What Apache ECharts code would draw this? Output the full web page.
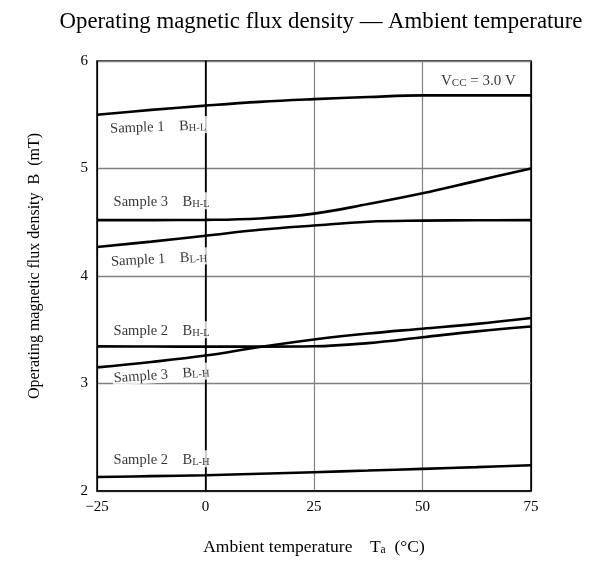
<!DOCTYPE html>
<html><head><meta charset="utf-8">
<script src="https://cdn.jsdelivr.net/npm/echarts@6/dist/echarts.min.js"></script>
<style>html,body{margin:0;padding:0;background:#fff;overflow:hidden}#c{width:593px;height:561px}</style>
</head><body><div id="c"></div>
<script>
const temps = [-25, -12.5, 0, 12.5, 25, 37.5, 50, 62.5, 75];
const s1HL = [5.50, 5.545, 5.585, 5.62, 5.645, 5.665, 5.68, 5.68, 5.68];
const s3HL = [4.52, 4.52, 4.522, 4.535, 4.58, 4.67, 4.77, 4.885, 5.00];
const s1LH = [4.27, 4.32, 4.375, 4.43, 4.47, 4.505, 4.515, 4.518, 4.52];
const s2HL = [3.345, 3.344, 3.343, 3.343, 3.346, 3.376, 3.43, 3.485, 3.53];
const s3LH = [3.15, 3.20, 3.26, 3.34, 3.41, 3.465, 3.51, 3.555, 3.61];
const s2LH = [2.13, 2.138, 2.147, 2.16, 2.175, 2.19, 2.206, 2.222, 2.24];
const seriesNames = ['Sample 1 BH-L','Sample 3 BH-L','Sample 1 BL-H','Sample 2 BH-L','Sample 3 BL-H','Sample 2 BL-H'];
const labelSample = ['Sample 1','Sample 3','Sample 1','Sample 2','Sample 3','Sample 2'];
const labelSub = ['H-L','H-L','L-H','H-L','L-H','L-H'];
const labelPos = [[-22.2, 5.377], [-21.4, 4.70], [-22, 4.14], [-21.4, 3.50], [-21.4, 3.055], [-21.4, 2.30]];
const labelRot = [2, 0, 3, 0, 4, 0];
const xTicks = [-25, 0, 25, 50, 75];
const yTicks = [2, 3, 4, 5, 6];
const vccPos = [71.5, 5.825];

const F = '"Liberation Serif", "Times New Roman", serif';
const curves = [s1HL, s3HL, s1LH, s2HL, s3LH, s2LH];
const series = curves.map((vals, i) => ({
  name: seriesNames[i], type: 'line', smooth: 0.4, symbol: 'none',
  data: temps.map((t, j) => [t, vals[j]]),
  lineStyle: {color: '#000', width: 2.6}, z: 3
}));
const mainRich = {
  a: {fontFamily: F, fontSize: 14.5, color: '#000', verticalAlign: 'bottom', lineHeight: 17},
  s: {fontFamily: F, fontSize: 10.5, color: '#000', verticalAlign: 'bottom', lineHeight: 10}
};
series.push({
  type: 'scatter', symbolSize: 0, z: 5,
  data: labelPos.map((p, i) => ({
    value: p,
    label: {
      show: true, position: 'right', distance: 0, rotate: labelRot[i],
      backgroundColor: '#fff', padding: [0, 2, 0, 1],
      formatter: '{a|' + labelSample[i] + '    B}{s|' + labelSub[i] + '}',
      rich: mainRich
    }
  }))
});
series.push({
  type: 'scatter', symbolSize: 0, z: 5,
  data: [{value: vccPos, label: {
    show: true, position: 'left', distance: 0,
    formatter: '{a|V}{s|CC}{a| = 3.0 V}',
    rich: {
      a: {fontFamily: F, fontSize: 15, color: '#000', verticalAlign: 'bottom', lineHeight: 17},
      s: {fontFamily: F, fontSize: 11, color: '#000', verticalAlign: 'bottom', lineHeight: 10}
    }
  }}]
});

const chart = echarts.init(document.getElementById('c'), null, {renderer: 'canvas'});
chart.setOption({
  animation: false,
  backgroundColor: '#fff',
  title: {
    text: 'Operating magnetic flux density — Ambient temperature',
    left: 316, top: 6, textAlign: 'center',
    textStyle: {fontFamily: F, fontSize: 22.8, fontWeight: 'normal', color: '#000'}
  },
  grid: {left: 97, right: 62, top: 61, bottom: 66, show: true, borderColor: '#000', borderWidth: 1.5, backgroundColor: 'transparent'},
  xAxis: {
    type: 'value', min: -25, max: 75, interval: 25,
    name: '{m|Ambient temperature    T}{s|a}{m|  (°C)}', nameLocation: 'middle', nameGap: 45,
    nameTextStyle: {fontFamily: F, fontSize: 17.5, color: '#000',
      rich: {
        m: {fontFamily: F, fontSize: 17.5, color: '#000', verticalAlign: 'bottom', lineHeight: 20},
        s: {fontFamily: F, fontSize: 11.5, color: '#000', verticalAlign: 'bottom', lineHeight: 8}
      }},
    axisLine: {show: true, lineStyle: {color: '#000', width: 1.5}},
    axisTick: {show: false},
    axisLabel: {fontFamily: F, fontSize: 15, color: '#000', margin: 9,
      formatter: v => (v < 0 ? '\u2212' + Math.abs(v) : String(v))},
    splitLine: {show: true, lineStyle: {color: ['#000', '#000', '#808080', '#808080', '#000'], width: 1.2}}
  },
  yAxis: {
    type: 'value', min: 2, max: 6, interval: 1,
    name: 'Operating magnetic flux density  B  (mT)', nameLocation: 'middle', nameGap: 54,
    nameTextStyle: {fontFamily: F, fontSize: 16, color: '#000', padding: [0, 0, 0, 20]},
    axisLine: {show: true, lineStyle: {color: '#000', width: 1.5}},
    axisTick: {show: false},
    axisLabel: {fontFamily: F, fontSize: 15, color: '#000', margin: 9},
    splitLine: {show: true, lineStyle: {color: '#808080', width: 1.3}}
  },
  series: series
});
</script>
</body></html>
